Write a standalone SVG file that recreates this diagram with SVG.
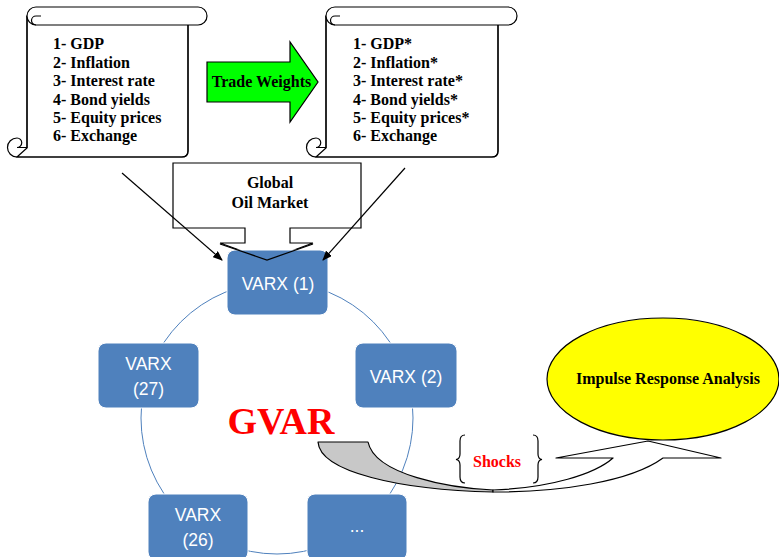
<svg xmlns="http://www.w3.org/2000/svg" width="779" height="557" viewBox="0 0 779 557">
<style>
.ln{fill:none;stroke:#000;stroke-width:1.2}
.wf{fill:#fff;stroke:#000;stroke-width:1.2}
.st{font-family:"Liberation Serif","Times New Roman",serif;font-weight:bold;font-size:16px;fill:#000}
.node{fill:#4F81BD;stroke:#fff;stroke-width:1}
.nt{font-family:"Liberation Sans",Arial,sans-serif;font-size:17.5px;fill:#fff;text-anchor:middle}
.red{fill:#FF0000}
</style>
<defs>
<marker id="ah" markerWidth="10" markerHeight="8" refX="9" refY="4" orient="auto" markerUnits="userSpaceOnUse">
<path d="M0,0 L10,4 L0,8 Z" fill="#000"/>
</marker>
</defs>
<rect width="779" height="557" fill="#fff"/>

<g id="ring">
<circle cx="277" cy="418" r="136" fill="none" stroke="#4F81BD" stroke-width="1"/>
</g>

<g id="scroll-domestic">
<path class="wf" d="M27,16 H188 V151 Q188,157 182,157 H17 L27,148 Z" stroke="none"/>
<path class="ln" d="M27,16 V148 M17,157 H182 Q188,157 188,151 V25"/>
<path class="wf" d="M36,7 H198 A9,9 0 0 1 198,25 H36 A9,9 0 0 1 36,7 Z"/>
<path class="ln" d="M41,16 H36 A4.5,4.5 0 0 0 36,25"/>
<path class="ln" d="M17,157 A9.5,9.5 0 0 1 17,138 A4.75,4.75 0 0 1 17,147.5 H27"/>
<text class="st" x="53" y="49">1- GDP</text>
<text class="st" x="53" y="67.5">2- Inflation</text>
<text class="st" x="53" y="86">3- Interest rate</text>
<text class="st" x="53" y="104.5">4- Bond yields</text>
<text class="st" x="53" y="122.5">5- Equity prices</text>
<text class="st" x="53" y="141">6- Exchange</text>
</g>

<g id="trade-weights">
<path d="M207,62 H290 V42 L318,82 L290,122 V102 H207 Z" fill="#00FF00" stroke="#000" stroke-width="1.2"/>
<text class="st" x="261.5" y="87" text-anchor="middle">Trade Weights</text>
</g>

<g id="scroll-foreign">
<path class="wf" d="M326,16 H498 V151 Q498,157 492,157 H316 L326,148 Z" stroke="none"/>
<path class="ln" d="M326,16 V148 M316,157 H492 Q498,157 498,151 V25"/>
<path class="wf" d="M335,7 H508 A9,9 0 0 1 508,25 H335 A9,9 0 0 1 335,7 Z"/>
<path class="ln" d="M340,16 H335 A4.5,4.5 0 0 0 335,25"/>
<path class="ln" d="M316,157 A9.5,9.5 0 0 1 316,138 A4.75,4.75 0 0 1 316,147.5 H326"/>
<text class="st" x="353" y="49">1- GDP*</text>
<text class="st" x="353" y="67.5">2- Inflation*</text>
<text class="st" x="353" y="86">3- Interest rate*</text>
<text class="st" x="353" y="104.5">4- Bond yields*</text>
<text class="st" x="353" y="122.5">5- Equity prices*</text>
<text class="st" x="353" y="141">6- Exchange</text>
</g>

<g id="global-oil-market">
<path class="wf" d="M173,163 H361 V228 H290 V243 H313 L267,260 L220,243 H245 V228 H173 Z"/>
<text class="st" x="270" y="188" text-anchor="middle">Global</text>
<text class="st" x="270" y="208" text-anchor="middle">Oil Market</text>
</g>

<g id="varx-1">
<rect class="node" x="227" y="250" width="101" height="65" rx="8"/>
<text class="nt" x="278" y="290">VARX (1)</text>
</g>
<g id="varx-2">
<rect class="node" x="355" y="343" width="102" height="65" rx="8"/>
<text class="nt" x="406" y="383">VARX (2)</text>
</g>
<g id="varx-27">
<rect class="node" x="98" y="343" width="101" height="65" rx="8"/>
<text class="nt" x="148.5" y="370">VARX</text>
<text class="nt" x="148.5" y="395">(27)</text>
</g>
<g id="varx-26">
<rect class="node" x="148" y="494" width="100" height="66" rx="8"/>
<text class="nt" x="198" y="521">VARX</text>
<text class="nt" x="198" y="546">(26)</text>
</g>
<g id="varx-more">
<rect class="node" x="307" y="494" width="100" height="66" rx="8"/>
<text class="nt" x="357" y="532">...</text>
</g>

<g id="gvar">
<text x="281" y="434" text-anchor="middle" font-family="'Liberation Serif','Times New Roman',serif" font-weight="bold" font-size="38" fill="#FF0000">GVAR</text>
</g>

<g id="impulse-response">
<ellipse cx="663" cy="379" rx="116" ry="61" fill="#FFFF00" stroke="#000" stroke-width="1.2"/>
<text class="st" x="668" y="384" text-anchor="middle">Impulse Response Analysis</text>
</g>

<g id="connectors">
<path class="ln" d="M313,244 L267,260 L220,244"/>
<line class="ln" x1="122" y1="173" x2="222" y2="260" marker-end="url(#ah)"/>
<line class="ln" x1="405" y1="168" x2="323" y2="260" marker-end="url(#ah)"/>
<path d="M318,442 H368 C375,475 450,488 493,490 L493,492 C400,490 320,472 318,442 Z" fill="#C8C8C8" stroke="#000" stroke-width="1.2" stroke-linejoin="round"/>
<path d="M493,490 C550,488 595,474 613,458 L556,458 L648,441 L721,458 L663,458 C630,482 560,492 493,492 Z" fill="#fff" stroke="#000" stroke-width="1.2" stroke-linejoin="round"/>
</g>

<g id="shocks">
<path class="ln" d="M465,435 Q460,435 460,441 V454 Q460,459 456,459.5 Q460,460 460,465 V477 Q460,483 465,483" stroke-width="1"/>
<path class="ln" d="M533,435 Q538,435 538,441 V454 Q538,459 542,459.5 Q538,460 538,465 V477 Q538,483 533,483" stroke-width="1"/>
<text class="st red" x="497" y="467" text-anchor="middle" font-size="14">Shocks</text>
</g>
</svg>
